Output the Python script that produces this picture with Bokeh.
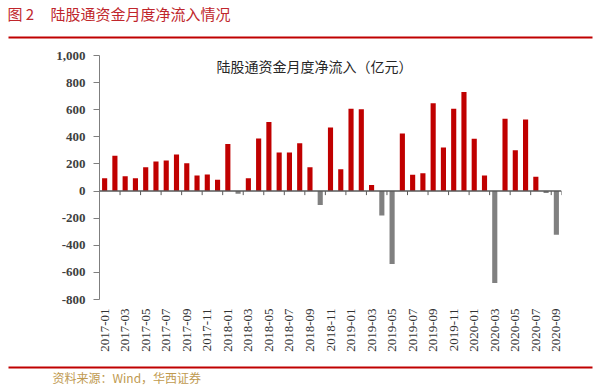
import numpy as np
from bokeh.plotting import figure
from bokeh.layouts import column
from bokeh.models import (ColumnDataSource, Range1d, FixedTicker, NumeralTickFormatter,
                          Span, Label)
from bokeh.core.properties import value
from bokeh.embed import file_html
from bokeh.resources import INLINE

# ---- data ----
months = ["2017-01", "2017-02", "2017-03", "2017-04", "2017-05", "2017-06",
          "2017-07", "2017-08", "2017-09", "2017-10", "2017-11", "2017-12",
          "2018-01", "2018-02", "2018-03", "2018-04", "2018-05", "2018-06",
          "2018-07", "2018-08", "2018-09", "2018-10", "2018-11", "2018-12",
          "2019-01", "2019-02", "2019-03", "2019-04", "2019-05", "2019-06",
          "2019-07", "2019-08", "2019-09", "2019-10", "2019-11", "2019-12",
          "2020-01", "2020-02", "2020-03", "2020-04", "2020-05", "2020-06",
          "2020-07", "2020-08", "2020-09"]
net_inflow = [95, 260, 110, 95, 176, 218, 225, 270, 206, 115, 123, 83,
              348, -20, 95, 387, 510, 285, 285, 353, 176, -103, 468, 160,
              608, 603, 44, -181, -539, 424, 120, 132, 647, 321, 608, 730,
              385, 115, -679, 534, 301, 527, 105, -15, -323]
y_ticks = [-800, -600, -400, -200, 0, 200, 400, 600, 800, 1000]

chart_title = "陆股通资金月度净流入（亿元）"
fig_no = "图 2"
fig_title = "陆股通资金月度净流入情况"
source_note = "资料来源：Wind，华西证券"

RED = "#C00000"
GRAY = "#808080"
HEAD_RED = "#C0262C"
CJK = "Noto Sans CJK SC"

W = 600
HEAD_H, MAIN_H, FOOT_H = 45, 318, 22


def blank(h):
    f = figure(width=W, height=h, output_backend="svg", toolbar_location=None,
               x_range=Range1d(0, W), y_range=Range1d(h, 0),
               x_axis_type=None, y_axis_type=None, min_border=0)
    f.min_border_left = f.min_border_right = f.min_border_top = f.min_border_bottom = 0
    f.frame_align = False
    f.outline_line_color = None
    f.grid.visible = False
    return f


# ---- header ----
head = blank(HEAD_H)
head.text(x=[7], y=[13], text=[fig_no], text_font=value(CJK), text_font_size="15px",
          text_color=HEAD_RED, text_baseline="middle", text_align="left")
head.text(x=[50], y=[13], text=[fig_title], text_font=value(CJK), text_font_size="15px",
          text_color=HEAD_RED, text_baseline="middle", text_align="left")
head.quad(left=[8], right=[592], top=[36], bottom=[38], fill_color=RED, line_color=None)

# ---- main chart ----
n = len(months)
xs = list(range(n))
colors = [RED if v >= 0 else GRAY for v in net_inflow]
src = ColumnDataSource(dict(x=xs, v=net_inflow, c=colors))

p = figure(width=W, height=MAIN_H, output_backend="svg", toolbar_location=None,
           x_range=Range1d(-0.5, n - 0.5), y_range=Range1d(y_ticks[0], y_ticks[-1]),
           min_border_left=99, min_border_right=39, min_border_top=10,
           min_border_bottom=64)
p.frame_align = False
p.outline_line_color = None
p.xgrid.visible = False
p.ygrid.visible = False

xa = p.xaxis[0]
xa.ticker = FixedTicker(ticks=xs[::2])
xa.major_label_overrides = {i: m for i, m in enumerate(months)}
xa.major_label_orientation = np.pi / 2
xa.axis_line_color = None
xa.major_tick_line_color = None
xa.minor_tick_line_color = None
xa.major_tick_out = 0
xa.major_tick_in = 0
xa.major_label_standoff = 9
xa.major_label_text_font = "Liberation Serif"
xa.major_label_text_font_size = "13px"
xa.major_label_text_color = "#333333"

ya = p.yaxis[0]
ya.ticker = FixedTicker(ticks=y_ticks)
ya.formatter = NumeralTickFormatter(format="0,0")
ya.axis_line_color = "#7F7F7F"
ya.major_tick_line_color = "#7F7F7F"
ya.major_tick_out = 6
ya.major_tick_in = 0
ya.minor_tick_line_color = None
ya.major_label_standoff = 8
ya.major_label_text_font = "Liberation Serif"
ya.major_label_text_font_style = "bold"
ya.major_label_text_font_size = "13px"
ya.major_label_text_color = "#404040"

p.vbar(x="x", top="v", width=0.5, fill_color="c", line_color=None, source=src)

p.add_layout(Span(location=0, dimension="width", line_color="#595959", line_width=1.5))
bounds = [x - 0.5 for x in xs[::2]] + [n - 0.5]
p.segment(x0=bounds, x1=bounds, y0=[0] * len(bounds), y1=[-30] * len(bounds),
          line_color="#595959", line_width=1)

p.add_layout(Label(x=215, y=234, x_units="screen", y_units="screen", text=chart_title,
                   text_align="center", text_baseline="middle",
                   text_font=CJK, text_font_size="14px", text_color="#262626"))

# ---- footer ----
foot = blank(FOOT_H)
foot.quad(left=[8], right=[592], top=[3], bottom=[5], fill_color=RED, line_color=None)
foot.text(x=[52], y=[14], text=[source_note], text_font=value(CJK), text_font_size="12px",
          text_color="#C09A50", text_baseline="middle", text_align="left")

layout = column(head, p, foot, spacing=0)
open("out.html", "w").write(file_html(layout, INLINE))
